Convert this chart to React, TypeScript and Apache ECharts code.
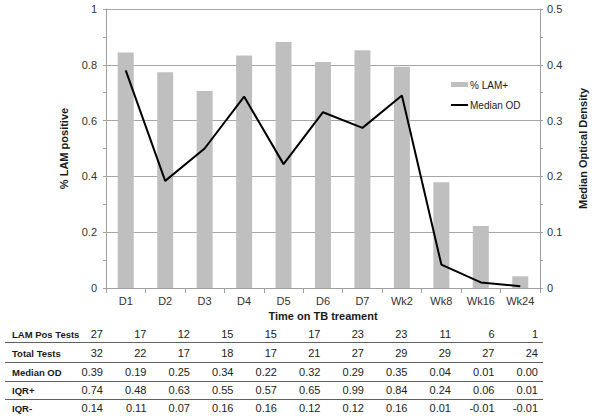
import React, { useEffect, useRef } from "react";
import * as echarts from "echarts";

const categories = ["D1", "D2", "D3", "D4", "D5", "D6", "D7", "Wk2", "Wk8", "Wk16", "Wk24"];
const lamPositive = [0.844, 0.773, 0.706, 0.833, 0.882, 0.81, 0.852, 0.793, 0.379, 0.222, 0.042];
const medianOD = [0.39, 0.192, 0.25, 0.343, 0.222, 0.315, 0.287, 0.345, 0.042, 0.01, 0.003];

const rowLabels = ["LAM Pos Tests", "Total Tests", "Median OD", "IQR+", "IQR-"];
const rowLamPos = ["27", "17", "12", "15", "15", "17", "23", "23", "11", "6", "1"];
const rowTotal = ["32", "22", "17", "18", "17", "21", "27", "29", "29", "27", "24"];
const rowMedian = ["0.39", "0.19", "0.25", "0.34", "0.22", "0.32", "0.29", "0.35", "0.04", "0.01", "0.00"];
const rowIqrPlus = ["0.74", "0.48", "0.63", "0.55", "0.57", "0.65", "0.99", "0.84", "0.24", "0.06", "0.01"];
const rowIqrMinus = ["0.14", "0.11", "0.07", "0.16", "0.16", "0.12", "0.12", "0.16", "0.01", "-0.01", "-0.01"];

const FONT = "Liberation Sans, Arial, sans-serif";

export default function App() {
  const ref = useRef<HTMLDivElement>(null);
  useEffect(() => {
    document.body.style.margin = "0";
    if (!ref.current) return;
    const chart = echarts.init(ref.current, undefined, { renderer: "svg" });

    const rows = [rowLamPos, rowTotal, rowMedian, rowIqrPlus, rowIqrMinus];
    const rowY = [334, 353, 372, 390, 408];
    const lineY = [342.5, 362.5, 381.5, 399.5];
    const colRight = (i: number) => 103 + i * 43.5;

    const graphics: any[] = [];
    rowLabels.forEach((lab, r) => {
      graphics.push({
        type: "text",
        x: 12,
        y: rowY[r],
        style: { text: lab, fill: "#1a1a1a", font: `bold 9.5px ${FONT}`, textVerticalAlign: "middle", textAlign: "left" },
      });
      rows[r].forEach((v, i) => {
        graphics.push({
          type: "text",
          x: colRight(i),
          y: rowY[r],
          style: { text: v, fill: "#222", font: `11px ${FONT}`, textVerticalAlign: "middle", textAlign: "right" },
        });
      });
    });
    lineY.forEach((y) => {
      graphics.push({
        type: "line",
        shape: { x1: 5, y1: y, x2: 543, y2: y },
        style: { stroke: "#606060", lineWidth: 1 },
      });
    });
    // legend
    graphics.push({ type: "rect", shape: { x: 451, y: 82, width: 17, height: 5 }, style: { fill: "#bfbfbf" } });
    graphics.push({
      type: "text", x: 470, y: 85,
      style: { text: "% LAM+", fill: "#1a1a1a", font: `10px ${FONT}`, textVerticalAlign: "middle" },
    });
    graphics.push({ type: "line", shape: { x1: 451, y1: 105, x2: 468, y2: 105 }, style: { stroke: "#000", lineWidth: 2 } });
    graphics.push({
      type: "text", x: 470, y: 105,
      style: { text: "Median OD", fill: "#1a1a1a", font: `10px ${FONT}`, textVerticalAlign: "middle" },
    });

    chart.setOption({
      animation: false,
      backgroundColor: "#ffffff",
      textStyle: { fontFamily: FONT },
      grid: { left: 106, right: 60, top: 9, bottom: 128, containLabel: false },
      xAxis: {
        type: "category",
        data: categories,
        boundaryGap: true,
        name: "Time on TB treament",
        nameLocation: "middle",
        nameGap: 18,
        nameTextStyle: { fontWeight: "bold", fontSize: 11, color: "#1a1a1a", fontFamily: FONT },
        axisLine: { lineStyle: { color: "#a0a0a0" } },
        axisTick: { show: true, length: 5, interval: 0, lineStyle: { color: "#a0a0a0" } },
        axisLabel: { fontSize: 11, color: "#333", margin: 7, interval: 0, fontFamily: FONT },
      },
      yAxis: [
        {
          type: "value",
          min: 0,
          max: 1,
          interval: 0.2,
          name: "% LAM positive",
          nameLocation: "middle",
          nameGap: 37,
          nameRotate: 90,
          nameTextStyle: { fontWeight: "bold", fontSize: 11, color: "#1a1a1a", fontFamily: FONT },
          axisLine: { show: true, lineStyle: { color: "#a0a0a0" } },
          axisTick: { show: true, length: 3, lineStyle: { color: "#a0a0a0" } },
          minorTick: { show: true, splitNumber: 2, length: 3, lineStyle: { color: "#a0a0a0" } },
          splitLine: { show: true, lineStyle: { color: "#a6a6a6", width: 1 } },
          axisLabel: { fontSize: 11, color: "#333", margin: 9, fontFamily: FONT },
        },
        {
          type: "value",
          min: 0,
          max: 0.5,
          interval: 0.1,
          position: "right",
          name: "Median Optical Density",
          nameLocation: "middle",
          nameGap: 37,
          nameRotate: 90,
          nameTextStyle: { fontWeight: "bold", fontSize: 11, color: "#1a1a1a", fontFamily: FONT },
          axisLine: { show: true, lineStyle: { color: "#a0a0a0" } },
          axisTick: { show: true, length: 3, lineStyle: { color: "#a0a0a0" } },
          minorTick: { show: true, splitNumber: 2, length: 3, lineStyle: { color: "#a0a0a0" } },
          splitLine: { show: false },
          axisLabel: { fontSize: 11, color: "#333", margin: 7, fontFamily: FONT },
        },
      ],
      series: [
        {
          name: "% LAM+",
          type: "bar",
          data: lamPositive,
          barWidth: 16,
          itemStyle: { color: "#bfbfbf" },
          yAxisIndex: 0,
        },
        {
          name: "Median OD",
          type: "line",
          data: medianOD,
          yAxisIndex: 1,
          symbol: "none",
          lineStyle: { color: "#000", width: 2 },
          z: 3,
        },
      ],
      graphic: graphics,
    });
    return () => chart.dispose();
  }, []);
  return <div ref={ref} style={{ width: 600, height: 416, position: "absolute", left: 0, top: 0 }} />;
}
